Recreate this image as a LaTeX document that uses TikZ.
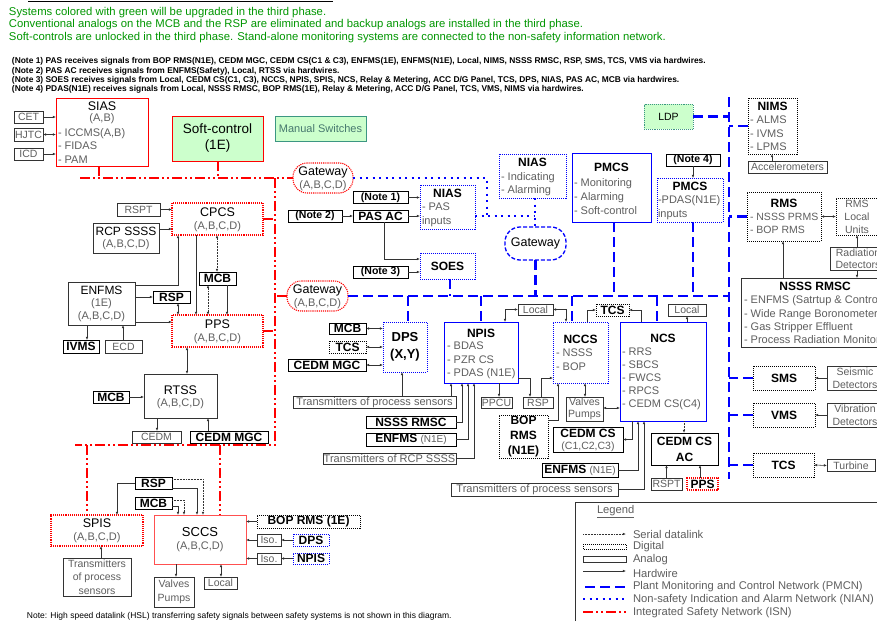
\documentclass[tikz,border=0pt]{standalone}
\usepackage{fontspec}
\setmainfont{Liberation Sans}
\usetikzlibrary{arrows.meta, positioning}

\newcommand{\fsz}[2]{\fontsize{#1}{#2}\selectfont}

\definecolor{isnred}{RGB}{255,0,0}
\definecolor{sccsred}{RGB}{255,80,80}
\definecolor{pmcnblue}{RGB}{0,0,255}
\definecolor{txtgray}{RGB}{95,95,95}
\definecolor{upgreen}{RGB}{0,150,0}
\definecolor{softfill}{RGB}{204,255,204}
\definecolor{msedge}{RGB}{60,150,130}
\definecolor{mstext}{RGB}{70,120,110}

\tikzset{
  every node/.append style={inner sep=0pt, outer sep=0pt},
  sz/.style 2 args={minimum width=#1pt, minimum height=#2pt},
  % box kinds
  ana/.style={draw=black!80, line width=0.6pt, text=txtgray, font=\fsz{10.5}{12.5}, align=center},
  bbx/.style={draw=black, line width=0.9pt},
  bld/.style={bbx, font=\fsz{12}{13}\bfseries},
  nbx/.style={bbx, line width=0.8pt, font=\fsz{10.5}{12}\bfseries},
  dig/.style={draw=black, line width=1pt, densely dotted},
  dlb/.style={dig, font=\fsz{12}{13}\bfseries},
  bdot/.style={draw=pmcnblue, line width=1pt, densely dotted},
  bsol/.style={draw=pmcnblue, line width=0.7pt},
  rdot/.style={draw=isnred, line width=1.1pt, densely dotted},
  rsol/.style={draw=isnred, line width=0.7pt},
  % texts
  ttl/.style={font=\fsz{12.5}{14}},
  btl/.style={font=\fsz{12}{14}\bfseries},
  subt/.style={text=txtgray, font=\fsz{11}{13}},
  itm/.style={text=txtgray, font=\fsz{11}{13.3}, align=left, anchor=west},
  hdr/.style={text=upgreen, font=\fsz{11.3}{12.5}, anchor=west},
  nte/.style={font=\fsz{8.4}{9.3}\bfseries, anchor=west},
  lgd/.style={text=txtgray, font=\fsz{11.2}{13}, anchor=west},
  % connectors
  hw/.style={draw=black!80, line width=0.55pt, ->},
  hwb/.style={hw, <->},
  ser/.style={hw, densely dotted, line width=0.8pt},
  pmcn/.style={draw=pmcnblue, line width=2.3pt, dash pattern=on 10pt off 5pt},
  nian/.style={draw=pmcnblue, line width=2pt, dash pattern=on 2pt off 4.5pt},
  isn/.style={draw=isnred, line width=2pt, dash pattern=on 10pt off 3pt on 2pt off 3pt on 2pt off 3pt},
}

\begin{document}
\begin{tikzpicture}[x=1pt, y=-1pt, >={Latex[length=3.2pt,width=2.6pt]}]
\useasboundingbox (0,0) rectangle (877,621);
\fill[white] (0,0) rectangle (877,621);
\clip (0,0) rectangle (877,621);

% header
\draw[line width=0.5pt] (28,1.2) -- (333,1.2);
\node[hdr] (hdr1) at (9,12.5) {Systems colored with green will be upgraded in the third phase.};
\node[hdr] (hdr2) at (9,25) {Conventional analogs on the MCB and the RSP are eliminated and backup analogs are installed in the third phase.};
\node[hdr] (hdr3) at (9,37.5) {Soft-controls are unlocked in the third phase. Stand-alone monitoring systems are connected to the non-safety information network.};
\node[nte] (nt1) at (12,61.6) {(Note 1) PAS receives signals from BOP RMS(N1E), CEDM MGC, CEDM CS(C1 \& C3), ENFMS(1E), ENFMS(N1E), Local, NIMS, NSSS RMSC, RSP, SMS, TCS, VMS via hardwires.};
\node[nte] (nt2) at (12,71) {(Note 2) PAS AC receives signals from ENFMS(Safety), Local, RTSS via hardwires.};
\node[nte] (nt3) at (12,80.2) {(Note 3) SOES receives signals from Local, CEDM CS(C1, C3), NCCS, NPIS, SPIS, NCS, Relay \& Metering, ACC D/G Panel, TCS, DPS, NIAS, PAS AC, MCB via hardwires.};
\node[nte] (nt4) at (12,89.4) {(Note 4) PDAS(N1E) receives signals from Local, NSSS RMSC, BOP RMS(1E), Relay \& Metering, ACC D/G Panel, TCS, VMS, NIMS via hardwires.};

% SIAS and its inputs
\node[rsol, sz={92}{68}] (sias) at (102,132) {};
\node[ttl] (sias-t) at (102,106) {SIAS};
\node[subt] (sias-s) at (102,119) {(A,B)};
\node[itm] (sias-i) at (58,146) {- ICCMS(A,B)\\- FIDAS\\- PAM};
\node[ana, sz={29}{12}] (cet) at (28.5,117) {CET};
\node[ana, sz={29}{13}] (hjtc) at (28.5,134.5) {HJTC};
\node[ana, sz={29}{12}] (icd) at (28.5,154) {ICD};
\draw[hw] (cet.east) -- (cet.east -| sias.west);
\draw[hwb] (hjtc.east) -- (hjtc.east -| sias.west);
\draw[hw] (icd.east) -- (icd.east -| sias.west);

\node[rsol, fill=softfill, sz={91}{45}, font=\fsz{13.5}{16}, align=center] (soft) at (217.5,138.5) {Soft-control\\(1E)};
\node[draw=msedge, line width=0.7pt, fill=softfill, sz={91}{25}, text=mstext, font=\fsz{11}{13}] (msw) at (320.5,128.5) {Manual Switches};

% gateways
\node[rdot, rounded corners=14pt, sz={60}{30}] (gw1) at (323,178) {};
\node[ttl] (gw1-t) at (323,172.5) {Gateway};
\node[subt] (gw1-s) at (323,185.5) {(A,B,C,D)};
\node[rdot, rounded corners=14pt, sz={61}{30}] (gw2) at (317.5,296) {};
\node[ttl] (gw2-t) at (317.5,290) {Gateway};
\node[subt] (gw2-s) at (317.5,304) {(A,B,C,D)};

% CPCS / PPS / RTSS
\node[rdot, sz={91}{32}] (cpcs) at (217.5,219) {};
\node[ttl] (cpcs-t) at (217.5,212) {CPCS};
\node[subt] (cpcs-s) at (217.5,227) {(A,B,C,D)};
\node[ana, sz={43}{13}] (rspt1) at (138.5,209.5) {RSPT};
\node[ana, sz={66}{30}] (rcp) at (126,238) {};
\node[ttl, font=\fsz{12}{14}] (rcp-t) at (126,231.5) {RCP SSSS};
\node[subt] (rcp-s) at (126,245) {(A,B,C,D)};
\node[bld, sz={37}{13}] (mcb1) at (217.5,278.5) {MCB};
\node[ana, sz={67}{43}] (enfms1) at (101.5,303.5) {};
\node[ttl, font=\fsz{12}{14}] (enfms1-t) at (101.5,290) {ENFMS};
\node[subt] (enfms1-s) at (101.5,303.5) {(1E)};
\node[subt] (enfms1-u) at (101.5,317) {(A,B,C,D)};
\node[bld, sz={37}{12}] (rsp1) at (171.5,297) {RSP};
\node[rdot, sz={91}{32}] (pps) at (217.5,331) {};
\node[ttl] (pps-t) at (217.5,324) {PPS};
\node[subt] (pps-s) at (217.5,339) {(A,B,C,D)};
\node[bld, sz={36}{13}] (ivms) at (81,346.5) {IVMS};
\node[ana, sz={37}{13}] (ecd) at (123.5,346.5) {ECD};
\node[ana, sz={73}{44}] (rtss) at (180.5,396) {};
\node[ttl] (rtss-t) at (180.5,390) {RTSS};
\node[subt] (rtss-s) at (180.5,404) {(A,B,C,D)};
\node[bld, sz={36}{12}] (mcb2) at (111,397) {MCB};
\node[ana, sz={49}{12}] (cedm1) at (156.5,437) {CEDM};
\node[bld, sz={78}{12}] (cmgc1) at (229,437) {CEDM MGC};

\draw[hw] (rspt1.east) -- (rspt1.east -| cpcs.west);
\draw[hw] (rcp.east |- 0,229) -- (cpcs.west |- 0,229);
\draw[hw] (enfms1.east |- 0,285) -| (cpcs.south -| 178,0);
\draw[hw] (enfms1.east |- rsp1.west) -- (rsp1.west);
\draw[hwb] (rsp1.south -| 178,0) -- (pps.north -| 178,0);
\draw[hw] (cpcs.south -| 196,0) -- (pps.north -| 196,0);
\draw[ser, <->] (cpcs.south -| 217,0) -- (mcb1.north -| 217,0);
\draw[ser, <->] (mcb1.south -| 208,0) -- (pps.north -| 208,0);
\draw[hw] (mcb1.south -| 227,0) -- (pps.north -| 227,0);
\draw[hw] (enfms1.east |- 0,322) -- (pps.west |- 0,322);
\draw[hw] (enfms1.south -| 87,0) -- (ivms.north -| 87,0);
\draw[hw] (ecd.north -| 123,0) -- (enfms1.south -| 123,0);
\draw[hwb] (pps.south -| 187,0) -- (rtss.north -| 187,0);
\draw[hw] (mcb2.east) -- (mcb2.east -| rtss.west);
\draw[hw] (rtss.south -| 157,0) -- (cedm1.north -| 157,0);
\draw[hw] (cmgc1.north -| 208,0) -- (rtss.south -| 208,0);

% PAS AC, NIAS, SOES
\node[nbx, sz={55}{12}] (note1) at (380.5,197.5) {(Note 1)};
\node[nbx, sz={54}{12}] (note2) at (315,216) {(Note 2)};
\node[bld, sz={55}{12}] (pasac) at (380.5,216) {PAS AC};
\node[nbx, sz={55}{12}] (note3) at (380.5,272) {(Note 3)};
\node[bdot, sz={55}{44}] (niasp) at (447.5,207) {};
\node[btl] (niasp-t) at (447.5,193.5) {NIAS};
\node[itm, font=\fsz{11}{14}] (niasp-i) at (422,215) {- PAS\\inputs};
\node[bdot, sz={55}{26}, font=\fsz{12}{14}\bfseries] (soes) at (447.5,266) {SOES};
\draw[hw] (note1.east) -- (note1.east -| niasp.west);
\draw[hw] (note2.east) -- (pasac.west);
\draw[hw] (pasac.east) -- (pasac.east -| niasp.west);
\draw[hw] (pasac.south -| 384,0) |- (soes.west |- 0,259);
\draw[hw] (note3.east) -- (note3.east -| soes.west);

\node[bdot, sz={67}{44}] (nias) at (532.5,176) {};
\node[btl] (nias-t) at (532.5,162) {NIAS};
\node[itm, font=\fsz{11}{13.5}] (nias-i) at (501,184) {- Indicating\\- Alarming};
\node[bsol, sz={79}{69}] (pmcs) at (611.5,187.5) {};
\node[btl] (pmcs-t) at (611.5,167) {PMCS};
\node[itm, font=\fsz{11}{14}] (pmcs-i) at (574,196.5) {- Monitoring\\- Alarming\\- Soft-control};
\node[draw=pmcnblue, line width=1.3pt, dash pattern=on 4pt off 2pt, rounded corners=15pt, sz={61}{33}, ttl] (gwb) at (535.5,243.5) {Gateway};
\node[nbx, sz={54}{12}] (note4) at (693,160) {(Note 4)};
\node[bdot, sz={66}{44}] (pdas) at (690,200) {};
\node[btl] (pdas-t) at (690,186) {PMCS};
\node[itm, font=\fsz{11}{14}] (pdas-i) at (658,208) {-PDAS(N1E)\\inputs};
\draw[hw] (note4.south) -- (note4.south |- pdas.north);
\node[draw=msedge, densely dotted, line width=0.9pt, fill=softfill, sz={49}{25}, font=\fsz{10.5}{12}] (ldp) at (668.5,116.5) {LDP};

% monitoring systems on the right
\node[dig, sz={49}{56}] (nims) at (772.5,126) {};
\node[btl] (nims-t) at (772.5,106) {NIMS};
\node[itm, font=\fsz{11}{13.5}] (nims-i) at (750,133.5) {- ALMS\\- IVMS\\- LPMS};
\node[ana, sz={79}{12}] (accel) at (787.5,167) {Accelerometers};
\node[dig, sz={74}{49}] (rms) at (784,216.5) {};
\node[btl] (rms-t) at (784,203) {RMS};
\node[itm, font=\fsz{10.5}{13}] (rms-i) at (750,223.5) {- NSSS PRMS\\- BOP RMS};
\node[dig, sz={42}{37}, text=txtgray, font=\fsz{10.5}{13}, align=center] (rmslu) at (857,216.5) {RMS\\Local\\Units};
\node[ana, sz={56}{23}] (raddet) at (858,258.5) {Radiation\\Detectors};
\node[ana, sz={148}{69}] (rmsc1) at (815,312.5) {};
\node[btl] (rmsc1-t) at (815,286) {NSSS RMSC};
\node[itm] (rmsc1-i) at (744,320) {- ENFMS (Satrtup \& Control)\\- Wide Range Boronometer\\- Gas Stripper Effluent\\- Process Radiation Monitor};
\node[dlb, sz={62}{24}] (sms) at (784,378) {SMS};
\node[ana, sz={56}{24}] (seis) at (855,378) {Seismic\\Detectors};
\node[dlb, sz={62}{24}] (vms) at (784,415) {VMS};
\node[ana, sz={56}{24}] (vib) at (855,415) {Vibration\\Detectors};
\node[dlb, sz={61}{24}] (tcs3) at (783.5,465) {TCS};
\node[ana, sz={48}{12}] (turb) at (851,465.5) {Turbine};
\draw[hw] (accel.north -| 772,0) -- (nims.south -| 772,0);
\draw[hwb] (rms.east) -- (rmslu.west);
\draw[hw] (raddet.north -| 857,0) -- (rmslu.south -| 857,0);
\draw[hw] (raddet.south -| 857,0) -- (rmsc1.north -| 857,0);
\draw[hw] (rmsc1.north -| 783,0) -- (rms.south -| 783,0);
\draw[hw] (seis.west) -- (sms.east);
\draw[hw] (vib.west) -- (vms.east);
\draw[hwb] (tcs3.east) -- (turb.west);

% DPS, NPIS, NCCS, NCS
\node[bdot, sz={44}{50}, font=\fsz{13}{17}\bfseries, align=center] (dps) at (405,347) {DPS\\(X,Y)};
\node[bld, sz={37}{11}] (mcb3) at (347.5,328.5) {MCB};
\node[dlb, sz={37}{12}] (tcs2) at (347.5,347) {TCS};
\node[bld, sz={78}{12}] (cmgc2) at (327,365) {CEDM MGC};
\node[ana, sz={163}{12}, font=\fsz{11}{13}] (tps1) at (374.5,402.5) {Transmitters of process sensors};
\node[bsol, sz={74}{61}] (npis) at (481,352.5) {};
\node[btl] (npis-t) at (481,333) {NPIS};
\node[itm, font=\fsz{11}{13.5}] (npis-i) at (447,360.5) {- BDAS\\- PZR CS\\- PDAS (N1E)};
\node[bld, sz={90}{12}] (rmsc2) at (411,422) {NSSS RMSC};
\node[bld, sz={90}{13}] (enfms2) at (411,439.5) {ENFMS {\mdseries\color{txtgray}\fsz{10}{12}(N1E)}};
\node[ana, sz={133}{11}, font=\fsz{11}{13}] (trcp) at (389.5,458.5) {Transmitters of RCP SSSS};
\node[ana, sz={31}{11}] (ppcu) at (496.5,402.5) {PPCU};
\node[ana, sz={30}{11}] (rsp2) at (538,402.5) {RSP};
\node[ana, sz={35}{11}] (local1) at (535.5,309.5) {Local};
\node[bdot, sz={55}{61}] (nccs) at (580.5,352.5) {};
\node[btl] (nccs-t) at (580.5,339) {NCCS};
\node[itm, font=\fsz{11}{14}] (nccs-i) at (556,360) {- NSSS\\- BOP};
\node[dlb, sz={33}{12}] (tcsm) at (612.5,310) {TCS};
\node[ana, sz={38}{12}] (local2) at (687,310) {Local};
\node[bsol, sz={86}{99}] (ncs) at (663,371.5) {};
\node[btl] (ncs-t) at (663,338) {NCS};
\node[itm, font=\fsz{11}{13}] (ncs-i) at (622,379) {- RRS\\- SBCS\\- FWCS\\- RPCS\\- CEDM CS(C4)};
\node[ana, sz={37}{24}] (valv1) at (584.5,409) {Valves\\Pumps};
\node[bbx, sz={70}{25}] (cedmcs) at (588,439.5) {};
\node[btl] (cedmcs-t) at (588,433.5) {CEDM CS};
\node[subt, font=\fsz{10.5}{12}] (cedmcs-s) at (588,447) {(C1,C2,C3)};
\node[dlb, sz={49}{43}, font=\fsz{12}{15}\bfseries, align=center] (boprms1) at (523.5,436.5) {BOP\\RMS\\(N1E)};
\node[bld, sz={76}{14}] (enfms3) at (580,470) {ENFMS {\mdseries\color{txtgray}\fsz{10}{12}(N1E)}};
\node[ana, sz={167}{13}, font=\fsz{11}{13}] (tps2) at (534.5,489.5) {Transmitters of process sensors};
\node[bld, sz={67}{32}, font=\fsz{12}{16}\bfseries, align=center] (cedmac) at (684.5,449) {CEDM CS\\AC};
\node[ana, sz={31}{12}] (rspt2) at (666.5,484) {RSPT};
\node[rdot, sz={31}{12}, font=\fsz{12}{13}\bfseries] (ppss) at (702.5,484) {PPS};

\draw[hwb] (mcb3.east) -- (mcb3.east -| dps.west);
\draw[hwb] (tcs2.east) -- (tcs2.east -| dps.west);
\draw[hwb] (cmgc2.east) -- (cmgc2.east -| dps.west);
\draw[hw] (tps1.north -| 402,0) -- (dps.south -| 402,0);
\draw[hw] (tps1.north -| 451,0) -- (npis.south -| 451,0);
\draw[hw] (rmsc2.east) -| (npis.south -| 462,0);
\draw[hw] (enfms2.east) -| (npis.south -| 468,0);
\draw[hw] (trcp.east) -| (npis.south -| 474,0);
\draw[hw] (npis.south -| 499,0) -- (ppcu.north -| 499,0);
\draw[hw] (npis.east |- 0,378) -| (rsp2.north -| 530,0);
\draw[hw] (rsp2.north -| 541,0) |- (nccs.west |- 0,378);
\draw[hwb] (local1.west) -| (npis.north -| 505,0);
\draw[hwb] (local1.east) -| (nccs.north -| 566,0);
\draw[hw] (nccs.north -| 587,0) |- (tcsm.west);
\draw[hw] (ncs.north -| 641,0) |- (tcsm.east);
\draw[hw] (ncs.north -| 687,0) -- (local2.south);
\draw[hwb] (nccs.south -| 585,0) -- (valv1.north -| 585,0);
\draw[hwb] (valv1.east |- 0,408) -- (ncs.west |- 0,408);
\draw[hw] (ncs.south -| 632,0) |- (cedmcs.east);
\draw[hw] (boprms1.east |- 0,420) -| (nccs.south -| 558,0);
\draw[hw] (enfms3.east) -| (ncs.south -| 638,0);
\draw[hw] (tps2.east) -| (ncs.south -| 644,0);
\draw[ser] (ncs.south -| 684,0) -- (cedmac.north -| 684,0);
\draw[hw] (rspt2.north) -- (rspt2.north |- cedmac.south);
\draw[hw] (ppss.north -| 700,0) -- (cedmac.south -| 700,0);

% SPIS / SCCS
\node[bld, sz={37}{12}] (rsp3) at (153.5,483) {RSP};
\node[bld, sz={37}{12}] (mcb4) at (153.5,503) {MCB};
\node[rdot, sz={92}{31}] (spis) at (97,530.5) {};
\node[ttl] (spis-t) at (97,523) {SPIS};
\node[subt] (spis-s) at (97,538) {(A,B,C,D)};
\node[ana, sz={68}{38}, font=\fsz{10.5}{13.5}] (tsp) at (97,577) {Transmitters\\of process\\sensors};
\node[draw=sccsred, line width=0.8pt, sz={92}{49}] (sccs) at (200,539.5) {};
\node[ttl, font=\fsz{13}{15}] (sccs-t) at (200,532) {SCCS};
\node[subt] (sccs-s) at (200,547) {(A,B,C,D)};
\node[ana, sz={40}{30}, font=\fsz{10.5}{14}] (valv2) at (174,592) {Valves\\Pumps};
\node[ana, sz={33}{12}] (local3) at (220.5,583) {Local};
\node[dlb, sz={103}{13}] (boprms2) at (308.5,521.5) {BOP RMS (1E)};
\node[ana, sz={24}{12}] (iso1) at (269,540) {Iso.};
\node[ana, sz={24}{11}] (iso2) at (269,558.5) {Iso.};
\node[bdot, sz={36}{12}, font=\fsz{12}{13}\bfseries] (dpss) at (311,540) {DPS};
\node[bdot, sz={36}{11}, font=\fsz{12}{13}\bfseries] (npiss) at (311,558.5) {NPIS};

\draw[hw] (rsp3.west) -| (spis.north -| 117,0);
\draw[hw] (rsp3.east |- 0,488) -| (sccs.north -| 197,0);
\draw[ser] (rsp3.east |- 0,479) -| (sccs.north -| 203,0);
\draw[ser] (mcb4.east |- 0,500) -| (sccs.north -| 184,0);
\draw[hw] (mcb4.east |- 0,506) -| (sccs.north -| 178,0);
\draw[hw] (tsp.north -| 101,0) -- (spis.south -| 101,0);
\draw[hw] (sccs.south -| 176,0) -- (valv2.north -| 176,0);
\draw[hwb] (sccs.south -| 221,0) -- (local3.north -| 221,0);
\draw[hw] (boprms2.west) -- (boprms2.west -| sccs.east);
\draw[hw] (iso1.west) -- (iso1.west -| sccs.east);
\draw[hw] (iso2.west) -- (iso2.west -| sccs.east);
\draw[hw] (dpss.west) -- (iso1.east);
\draw[hw] (npiss.west) -- (iso2.east);

% networks
\coordinate (vtop) at (729,97);
\coordinate (vbot) at (729,479);
\coordinate (hbus) at (0,296);
\draw[pmcn] (vtop) -- (vbot);
\draw[pmcn] (ldp.east) -- (ldp.east -| vtop);
\draw[pmcn] (nims.west) -- (nims.west -| vtop);
\draw[pmcn] (rms.west) -- (rms.west -| vtop);
\draw[pmcn] (sms.west) -- (sms.west -| vtop);
\draw[pmcn] (vms.west) -- (vms.west -| vtop);
\draw[pmcn] (tcs3.west) -- (tcs3.west -| vtop);
\draw[pmcn] (gw2.east) -- (gw2.east -| vtop);
\draw[pmcn] (soes.south -| 450,0) -- (hbus -| 450,0);
\draw[pmcn] (gwb.south) -- (gwb.south |- hbus);
\draw[pmcn] (pmcs.south -| 614,0) -- (hbus -| 614,0);
\draw[pmcn] (pdas.south -| 693,0) -- (hbus -| 693,0);
\draw[pmcn] (hbus -| 408,0) -- (dps.north -| 408,0);
\draw[pmcn] (hbus -| 481,0) -- (npis.north -| 481,0);
\draw[pmcn] (hbus -| 572,0) -- (nccs.north -| 572,0);
\draw[pmcn] (hbus -| 657,0) -- (ncs.north -| 657,0);

\coordinate (nj) at (487,216);
\draw[nian] (gw1.east) -| (nj);
\draw[nian] (niasp.east |- nj) -- (nj -| 535,0);
\draw[nian] (nias.south -| 535,0) -- (gwb.north -| 535,0);

\coordinate (isnl) at (80,178);
\coordinate (isnv) at (275,178);
\coordinate (isnb) at (75,445);
\draw[isn] (isnl) -- (gw1.west);
\draw[isn] (sias.south -| 99,0) -- (isnl -| 99,0);
\draw[isn] (soft.south) -- (soft.south |- isnl);
\draw[isn] (isnv) -- (isnv |- isnb) -- (isnb);
\draw[isn] (cpcs.east) -- (cpcs.east -| isnv);
\draw[isn] (pps.east) -- (pps.east -| isnv);
\draw[isn] (gw2.west) -- (gw2.west -| isnv);
\draw[isn] (isnb -| 87,0) -- (spis.north -| 87,0);
\draw[isn] (isnb -| 220,0) -- (sccs.north -| 220,0);

% note and legend
\node[font=\fsz{8.5}{10}, anchor=west] (hsl) at (27,616) {Note: High speed datalink (HSL) transferring safety signals between safety systems is not shown in this diagram.};
\draw[black!80, line width=0.6pt] (575,621) -- (575,502) -- (877,502);
\node[lgd] (lg-t) at (597,512) {\underline{Legend}};
\draw[ser] (583,534) -- (626,534);
\draw[dig] (583,544) rectangle (626,549.5);
\draw[draw=black!80, line width=0.7pt] (583,556) rectangle (626,562);
\draw[hw] (583,571) -- (626,571);
\draw[pmcn] (585,587) -- (626,587);
\draw[nian] (583,599) -- (626,599);
\draw[isn] (583,612) -- (626,612);
\node[lgd] (lg1) at (633,534) {Serial datalink};
\node[lgd] (lg2) at (633,547) {Digital};
\node[lgd] (lg3) at (633,560) {Analog};
\node[lgd] (lg4) at (633,573) {Hardwire};
\node[lgd] (lg5) at (633,587) {Plant Monitoring and Control Network (PMCN)};
\node[lgd] (lg6) at (633,600) {Non-safety Indication and Alarm Network (NIAN)};
\node[lgd] (lg7) at (633,613) {Integrated Safety Network (ISN)};
\end{tikzpicture}
\end{document}
